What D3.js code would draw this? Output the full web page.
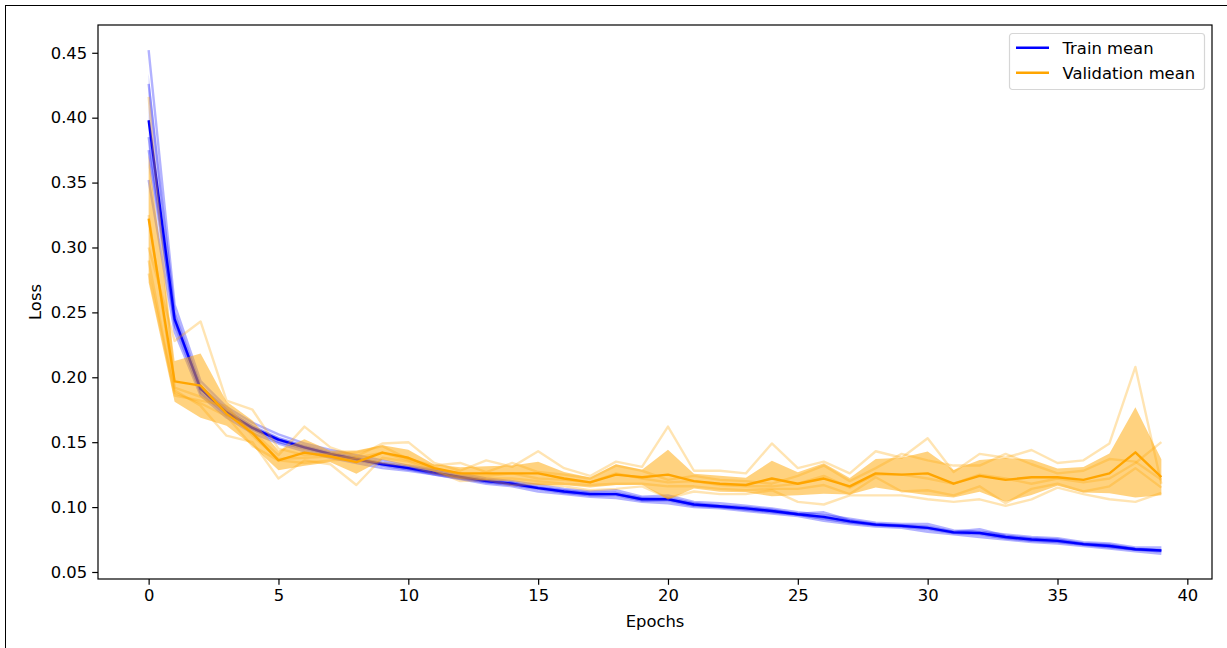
<!DOCTYPE html>
<html>
<head>
<meta charset="utf-8">
<script src="https://cdn.jsdelivr.net/npm/d3@7"></script>
<style>
  body { margin: 0; background: #fff; }
  svg text { font-family: "DejaVu Sans", sans-serif; fill: #000; }
</style>
</head>
<body>
<div id="chart"></div>
<script>
var svgWidth = 1227;
var svgHeight = 648;

var plot = { left: 98, right: 1212, top: 25, bottom: 579 };

// epochs 0..39
var epochs = d3.range(40);
var xTicks = [0, 5, 10, 15, 20, 25, 30, 35, 40];
var yTicks = [0.05, 0.10, 0.15, 0.20, 0.25, 0.30, 0.35, 0.40, 0.45];

// training loss, five runs
var trainRun1 = [.452,.256,.197,.177,.165,.156,.149,.144,.140,.136,.132,.129,.126,.122,.120,.117,.114,.112,.113,.108,.109,.104,.103,.101,.099,.096,.094,.091,.088,.087,.087,.082,.081,.079,.077,.076,.073,.072,.069,.069];
var trainRun2 = [.385,.240,.188,.171,.160,.150,.145,.140,.136,.132,.129,.125,.122,.119,.117,.114,.111,.109,.109,.105,.105,.101,.100,.098,.096,.094,.091,.088,.086,.085,.083,.080,.079,.076,.074,.073,.071,.069,.067,.066];
var trainRun3 = [.426,.250,.193,.175,.162,.153,.147,.142,.138,.134,.131,.128,.124,.121,.119,.115,.113,.111,.111,.107,.107,.103,.101,.100,.098,.095,.096,.090,.087,.086,.085,.081,.083,.078,.076,.075,.072,.071,.068,.067];
var trainRun4 = [.352,.235,.186,.169,.157,.149,.143,.138,.134,.130,.128,.125,.1215,.118,.116,.112,.110,.108,.107,.104,.103,.100,.099,.097,.095,.093,.0895,.087,.085,.084,.081,.079,.077,.075,.073,.072,.070,.068,.066,.064];
var trainRun5 = [.375,.244,.191,.173,.161,.152,.146,.141,.137,.133,.130,.126,.123,.120,.118,.115,.112,.110,.110,.106,.106,.102,.100,.099,.097,.0945,.092,.089,.0865,.0855,.084,.0805,.080,.077,.075,.074,.0715,.070,.0675,.0665];

// validation loss, five runs
var valRun1 = [.416,.192,.185,.175,.158,.140,.162,.146,.139,.149,.150,.134,.128,.136,.131,.143,.130,.124,.135,.131,.162,.128,.128,.126,.149,.130,.135,.126,.143,.138,.153,.127,.141,.138,.144,.134,.136,.149,.208,.118];
var valRun2 = [.325,.190,.178,.155,.150,.122,.136,.133,.117,.138,.135,.128,.120,.121,.117,.118,.116,.113,.114,.116,.107,.112,.110,.110,.113,.104,.102,.109,.109,.109,.106,.104,.106,.101,.106,.115,.110,.106,.104,.111];
var valRun3 = [.300,.228,.243,.182,.175,.145,.140,.141,.142,.147,.137,.132,.134,.127,.134,.127,.125,.122,.132,.128,.121,.124,.121,.120,.118,.124,.132,.120,.130,.141,.136,.132,.132,.141,.133,.126,.128,.137,.135,.121];
var valRun4 = [.290,.186,.182,.178,.155,.137,.138,.139,.138,.142,.136,.130,.125,.124,.126,.122,.121,.119,.126,.122,.119,.120,.117,.116,.116,.118,.124,.115,.125,.125,.122,.118,.125,.122,.118,.122,.119,.122,.134,.150];
var valRun5 = [.280,.188,.180,.170,.147,.136,.134,.136,.137,.134,.132,.126,.123,.122,.122,.120,.118,.117,.118,.118,.116,.116,.114,.113,.114,.114,.117,.110,.123,.112,.113,.109,.116,.103,.114,.118,.112,.116,.130,.115];

var trainRuns = [trainRun1, trainRun2, trainRun3, trainRun4, trainRun5];
var valRuns = [valRun1, valRun2, valRun3, valRun4, valRun5];

// mean and (population) std per epoch
function stats(runs) {
  return epochs.map(function(e) {
    var vals = runs.map(function(r) { return r[e]; });
    var m = d3.mean(vals);
    var sd = Math.sqrt(d3.mean(vals, function(v) { return (v - m) * (v - m); }));
    return { epoch: e, mean: m, lo: m - sd, hi: m + sd };
  });
}
var trainStats = stats(trainRuns);
var valStats = stats(valRuns);

// matplotlib style 5% margins
var allVals = [].concat.apply([], trainRuns.concat(valRuns))
  .concat(trainStats.map(d => d.lo), valStats.map(d => d.lo), trainStats.map(d => d.hi), valStats.map(d => d.hi));
var yMin = d3.min(allVals), yMax = d3.max(allVals);
var yPad = (yMax - yMin) * 0.05;

var x = d3.scaleLinear().domain([-39 * 0.05, 39 * 1.05]).range([plot.left, plot.right]);
var y = d3.scaleLinear().domain([yMin - yPad, yMax + yPad]).range([plot.bottom, plot.top]);

var svg = d3.select("#chart").append("svg")
  .attr("width", svgWidth)
  .attr("height", svgHeight);

// figure frame
svg.append("rect")
  .attr("x", 5.5).attr("y", 5.5)
  .attr("width", 1260).attr("height", 680)
  .attr("fill", "#fff").attr("stroke", "#000").attr("stroke-width", 1);

svg.append("clipPath").attr("id", "clip")
  .append("rect")
  .attr("x", plot.left).attr("y", plot.top)
  .attr("width", plot.right - plot.left).attr("height", plot.bottom - plot.top);

var chartGroup = svg.append("g").attr("clip-path", "url(#clip)");

var runLine = d3.line().x((d, i) => x(i)).y(d => y(d));
var meanLine = d3.line().x(d => x(d.epoch)).y(d => y(d.mean));
var band = d3.area().x(d => x(d.epoch)).y0(d => y(d.lo)).y1(d => y(d.hi));

function drawGroup(runs, st, color, bandOpacity) {
  chartGroup.append("g").selectAll("path")
    .data(runs)
    .enter()
    .append("path")
    .attr("d", runLine)
    .attr("fill", "none")
    .attr("stroke", color)
    .attr("stroke-opacity", 0.3)
    .attr("stroke-width", 2.4)
    .attr("stroke-linejoin", "round");

  chartGroup.append("path")
    .datum(st)
    .attr("d", band)
    .attr("fill", color)
    .attr("fill-opacity", bandOpacity);

  chartGroup.append("path")
    .datum(st)
    .attr("d", meanLine)
    .attr("fill", "none")
    .attr("stroke", color)
    .attr("stroke-width", 2.4)
    .attr("stroke-linejoin", "round");
}

drawGroup(trainRuns, trainStats, "blue", 0.2);
drawGroup(valRuns, valStats, "orange", 0.5);

// axes
var xAxis = svg.append("g")
  .attr("transform", `translate(0, ${plot.bottom})`)
  .call(d3.axisBottom(x).tickValues(xTicks).tickFormat(d3.format("d")).tickSizeOuter(0).tickSize(5.8).tickPadding(5));

var yAxis = svg.append("g")
  .attr("transform", `translate(${plot.left}, 0)`)
  .call(d3.axisLeft(y).tickValues(yTicks).tickFormat(d3.format(".2f")).tickSizeOuter(0).tickSize(5.8).tickPadding(5));

[xAxis, yAxis].forEach(function(a) {
  a.select(".domain").remove();
  a.selectAll(".tick line").attr("stroke", "#000").attr("stroke-width", 1.2);
  a.selectAll(".tick text")
    .style("font-family", "'DejaVu Sans', sans-serif")
    .style("font-size", "16.4px")
    .attr("fill", "#000");
});

// spines
svg.append("rect")
  .attr("x", plot.left).attr("y", plot.top)
  .attr("width", plot.right - plot.left).attr("height", plot.bottom - plot.top)
  .attr("fill", "none").attr("stroke", "#000").attr("stroke-width", 1.2);

svg.append("text")
  .attr("x", (plot.left + plot.right) / 2)
  .attr("y", 627)
  .attr("text-anchor", "middle")
  .style("font-size", "16.4px")
  .text("Epochs");

svg.append("text")
  .attr("transform", "translate(41," + (plot.top + plot.bottom) / 2 + ") rotate(-90)")
  .attr("text-anchor", "middle")
  .style("font-size", "16.4px")
  .text("Loss");

// legend
var legendItems = [
  { label: "Train mean", color: "blue" },
  { label: "Validation mean", color: "orange" }
];
var legend = svg.append("g").attr("transform", "translate(1009.5, 33.5)");
legend.append("rect")
  .attr("width", 195).attr("height", 56)
  .attr("rx", 3).attr("ry", 3)
  .attr("fill", "#fff").attr("fill-opacity", 0.8)
  .attr("stroke", "#d6d6d6").attr("stroke-width", 1.2);

var rows = legend.selectAll("g.row")
  .data(legendItems)
  .enter()
  .append("g")
  .attr("class", "row")
  .attr("transform", (d, i) => `translate(0, ${14.2 + i * 25})`);
rows.append("line")
  .attr("x1", 6.5).attr("x2", 39.5)
  .attr("stroke", d => d.color).attr("stroke-width", 2.4);
rows.append("text")
  .attr("x", 53)
  .attr("y", 5.8)
  .style("font-size", "16.4px")
  .text(d => d.label);
</script>
</body>
</html>
